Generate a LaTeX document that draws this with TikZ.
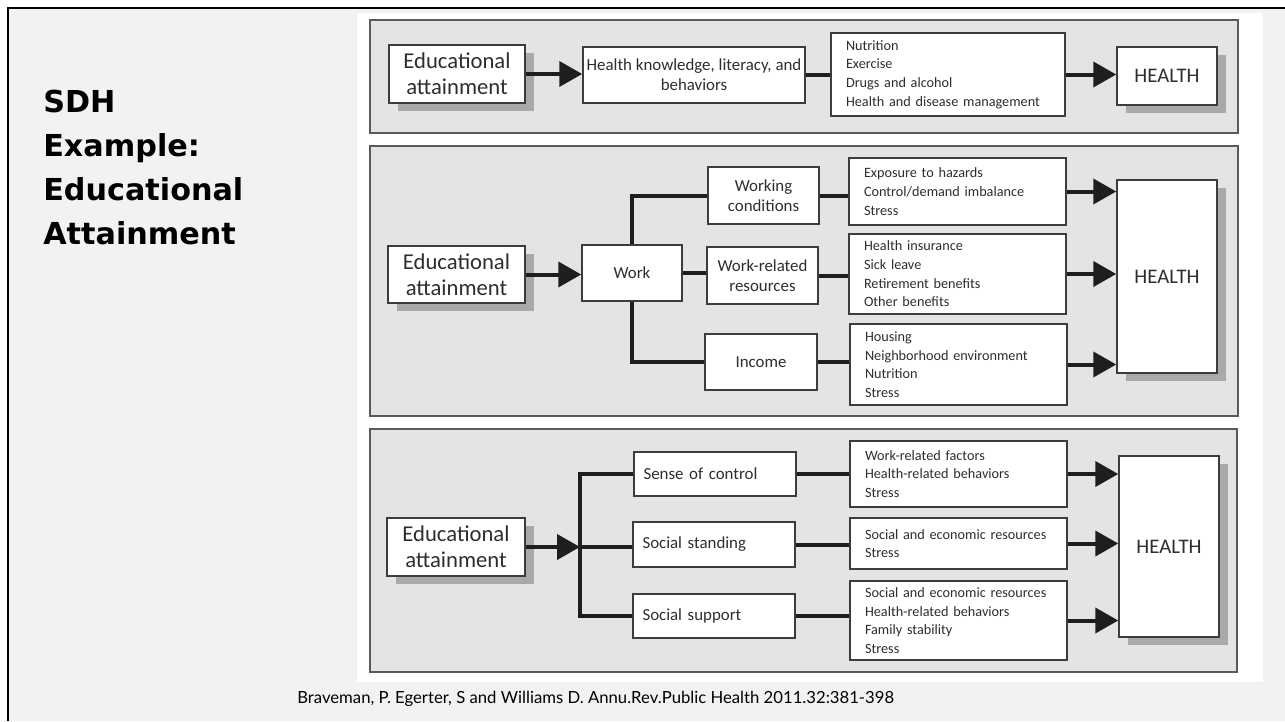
\documentclass[tikz,border=0pt]{standalone}
\usepackage{fontspec}
\setmainfont{Carlito}
\newfontfamily\gill{Lato}
\newfontfamily\titulofonte{DejaVu Sans}
\usetikzlibrary{arrows.meta,shadows}

\definecolor{fundo}{HTML}{F2F2F2}
\definecolor{painel}{HTML}{E3E4E6}
\definecolor{bordapainel}{HTML}{5A5A5A}
\definecolor{bordacaixa}{HTML}{3C3C3C}
\definecolor{sombra}{HTML}{A9A9AC}
\definecolor{preto}{HTML}{1E1E1E}
\definecolor{texto}{HTML}{2E2E2E}

\tikzset{
  caixa/.style={draw=bordacaixa, fill=white, line width=0.3mm, inner sep=0pt, text=texto, align=center},
  tam/.style 2 args={minimum width=#1*0.2mm, minimum height=#2*0.2mm},
  alt/.style={minimum height=#1*0.2mm},
  sombreada/.style={drop shadow={shadow xshift=1.7mm, shadow yshift=-1.6mm, fill=sombra, opacity=1}},
  edu/.style={caixa, sombreada, font=\fontsize{12.9}{14.8}\selectfont},
  saude/.style={caixa, sombreada, font=\fontsize{11.8}{14}\selectfont},
  meio/.style={caixa, font=\fontsize{9.6}{11.4}\selectfont},
  esq/.style={meio, align=left, text width=28.6mm, inner xsep=1.9mm},
  lista/.style={caixa, align=left, inner xsep=3mm, text width=37.4mm, font=\fontsize{8.1}{10.6}\selectfont},
  linha/.style={draw=preto, line width=0.8mm},
  flecha/.style={linha, -{Triangle[length=4.6mm, width=5mm]}},
  painelbox/.style={fill=painel, draw=bordapainel, line width=0.3mm}
}

\begin{document}
\begin{tikzpicture}[x=0.2mm, y=-0.2mm]
    \useasboundingbox (0,0) rectangle (1285,721);

    % Fundo
    \fill[white] (0,0) rectangle (1285,721);
    \fill[fundo] (8,8) rectangle (1285,721);
    \draw[black, line width=0.5mm] (8,721) -- (8,8) -- (1285,8);
    \fill[white] (357,13) rectangle (1263,682);
    \draw[painelbox] (370,20) rectangle (1238,133);
    \draw[painelbox] (370,146) rectangle (1238,416);
    \draw[painelbox] (370,429) rectangle (1237,672);

    % Textos
    \node[anchor=north west, align=left, inner sep=0pt, font=\titulofonte\bfseries\fontsize{17.2}{25}\selectfont] (titulo) at (43,90) {SDH\\Example:\\Educational\\Attainment};
    \node[anchor=base west, inner sep=0pt, font=\gill\fontsize{9.5}{11}\selectfont] (fonte) at (297,703) {Braveman, P. Egerter, S and Williams D. Annu.Rev.Public Health 2011.32:381-398};

    % Nós - painel 1
    \node[edu, tam={136}{58}] (edu1) at (457,74) {Educational\\attainment};
    \node[meio, tam={222}{56}] (conhec) at (694,75) {Health knowledge, literacy, and\\behaviors};
    \node[lista, text width=40.8mm, alt=83] (dieta) at (948,74.5) {Nutrition\\Exercise\\Drugs and alcohol\\Health and disease management};
    \node[saude, tam={100}{58}] (saude1) at (1167,76) {HEALTH};

    % Nós - painel 2
    \node[edu, tam={137}{57}] (edu2) at (456.5,274.5) {Educational\\attainment};
    \node[meio, tam={100}{56}] (trab) at (632,273) {Work};
    \node[meio, tam={111}{57}] (cond) at (763.5,195.5) {Working\\conditions};
    \node[meio, tam={111}{57}] (recur) at (762.5,275.5) {Work-related\\resources};
    \node[meio, tam={112}{56}] (renda) at (761,362) {Income};
    \node[lista, alt=67] (perigo) at (957.5,191.5) {Exposure to hazards\\Control/demand imbalance\\Stress};
    \node[lista, alt=80] (seguro) at (957.5,274) {Health insurance\\Sick leave\\Retirement benefits\\Other benefits};
    \node[lista, alt=81] (moradia) at (958.5,364.5) {Housing\\Neighborhood environment\\Nutrition\\Stress};
    \node[saude, tam={100}{193}] (saude2) at (1167,276.5) {HEALTH};

    % Nós - painel 3
    \node[edu, tam={138}{58}] (edu3) at (456,547) {Educational\\attainment};
    \coordinate (garfo) at (580,547);
    \node[esq, alt=44] (controle) at (715,474) {Sense of control};
    \node[esq, alt=45] (posicao) at (714,544.5) {Social standing};
    \node[esq, alt=44] (apoio) at (714,616) {Social support};
    \node[lista, alt=66] (fatores) at (958.5,474) {Work-related factors\\Health-related behaviors\\Stress};
    \node[lista, alt=51] (recursos) at (958.5,543.5) {Social and economic resources\\Stress};
    \node[lista, alt=79] (familia) at (958.5,620.5) {Social and economic resources\\Health-related behaviors\\Family stability\\Stress};
    \node[saude, tam={100}{181}] (saude3) at (1169,546.5) {HEALTH};

    % Arestas - painel 1
    \draw[flecha] (edu1.east) -- (edu1.east -| conhec.west);
    \draw[linha] (conhec.east) -- (conhec.east -| dieta.west);
    \draw[flecha] (dieta.east) -- (dieta.east -| saude1.west);

    % Arestas - painel 2
    \draw[flecha] (edu2.east) -- (edu2.east -| trab.west);
    \draw[linha] (trab.north) |- (cond.west);
    \draw[linha] (trab.east) -- (trab.east -| recur.west);
    \draw[linha] (trab.south) |- (renda.west);
    \draw[linha] (cond.east) -- (cond.east -| perigo.west);
    \draw[linha] (recur.east) -- (recur.east -| seguro.west);
    \draw[linha] (renda.east) -- (renda.east -| moradia.west);
    \draw[flecha] (perigo.east) -- (perigo.east -| saude2.west);
    \draw[flecha] (seguro.east) -- (seguro.east -| saude2.west);
    \draw[flecha] (moradia.east) -- (moradia.east -| saude2.west);

    % Arestas - painel 3
    \draw[flecha] (edu3.east) -- (garfo);
    \draw[linha] (garfo) |- (controle.west);
    \draw[linha] (garfo) -- (garfo -| posicao.west);
    \draw[linha] (garfo) |- (apoio.west);
    \draw[linha] (controle.east) -- (controle.east -| fatores.west);
    \draw[linha] (posicao.east) -- (posicao.east -| recursos.west);
    \draw[linha] (apoio.east) -- (apoio.east -| familia.west);
    \draw[flecha] (fatores.east) -- (fatores.east -| saude3.west);
    \draw[flecha] (recursos.east) -- (recursos.east -| saude3.west);
    \draw[flecha] (familia.east) -- (familia.east -| saude3.west);
\end{tikzpicture}
\end{document}
